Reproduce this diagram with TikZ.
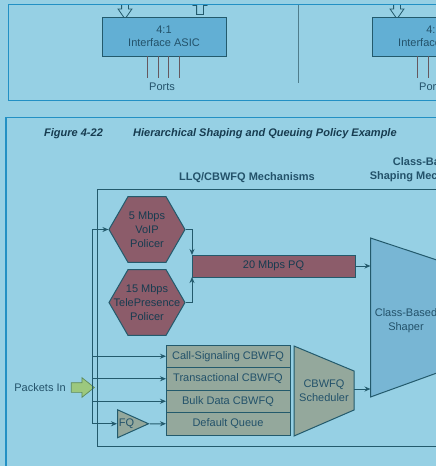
\documentclass[tikz,border=0pt]{standalone}
\usepackage{fontspec}
\setmainfont{Liberation Sans}
\usepackage{xcolor}
\usepackage{tikz}
\usetikzlibrary{shapes.geometric, shapes.arrows, arrows.meta, positioning}
\definecolor{bgblue}{HTML}{96D0E4}
\definecolor{panelblue}{HTML}{2290C4}
\definecolor{asicblue}{HTML}{62AFD4}
\definecolor{linedark}{HTML}{235A6C}
\definecolor{txtdark}{HTML}{23526A}
\definecolor{txtdeep}{HTML}{173C50}
\definecolor{policerred}{HTML}{8C5C6A}
\definecolor{queuegrey}{HTML}{94A89C}
\definecolor{shaperblue}{HTML}{78B6D4}
\definecolor{pktgreen}{HTML}{9CC87E}
\definecolor{pktedge}{HTML}{5E8A5A}
\definecolor{portline}{HTML}{66585F}
\definecolor{dividerline}{HTML}{4F7D8C}
\tikzstyle{block} = [rectangle, draw=linedark, line width=1pt, align=center, inner sep=0pt, outer sep=0pt, font=\fontsize{11}{13}\selectfont, text=txtdark]
\tikzstyle{asic} = [block, fill=asicblue, minimum width=124pt, minimum height=39pt]
\tikzstyle{queue} = [block, fill=queuegrey, minimum width=124pt, minimum height=22.5pt]
\tikzstyle{pqbox} = [block, fill=policerred, text=txtdeep, minimum width=163pt, minimum height=22pt]
\tikzstyle{hexa} = [regular polygon, regular polygon sides=6, minimum size=76pt, inner sep=0pt, draw=linedark, line width=1pt, fill=policerred]
\tikzstyle{hextext} = [align=center, inner sep=0pt, font=\fontsize{11}{14}\selectfont, text=txtdeep]
\tikzstyle{lbl} = [align=center, inner sep=0pt, font=\fontsize{11}{14}\selectfont, text=txtdark]
\tikzstyle{heading} = [lbl, font=\fontsize{11}{14}\selectfont\bfseries]
\tikzstyle{figtitle} = [lbl, anchor=west, text=txtdeep, font=\fontsize{11}{14}\selectfont\bfseries\itshape]
\tikzstyle{arrow} = [draw=linedark, line width=1pt, -{Stealth[length=6pt,width=5pt]}]
\tikzstyle{line} = [draw=linedark, line width=1pt]
\tikzstyle{frame} = [draw=panelblue, line width=1.6pt]
\tikzstyle{port} = [draw=portline, line width=1.8pt]
\tikzstyle{hollow} = [single arrow, draw=linedark, fill=bgblue, line width=0.8pt, minimum height=19pt, inner xsep=0pt, inner ysep=3pt, single arrow head extend=3.5pt, single arrow tip angle=70]
\tikzstyle{pktarrow} = [single arrow, draw=pktedge, fill=pktgreen, line width=0.7pt, minimum height=23pt, inner xsep=0pt, inner ysep=4.5pt, single arrow head extend=5pt, single arrow tip angle=77]
\tikzstyle{fqtri} = [isosceles triangle, isosceles triangle stretches, minimum width=28pt, minimum height=31pt, inner sep=0pt, draw=linedark, line width=1pt, fill=queuegrey, font=\fontsize{11}{13}\selectfont, text=txtdark]

\begin{document}
\begin{tikzpicture}[x=1pt, y=-1pt]
  \useasboundingbox (0,0) rectangle (436,466);
  \clip (0,0) rectangle (436,466);
  \fill[bgblue] (0,0) rectangle (436,466);

  % upper panel: interface ASICs
  \begin{scope}
    \clip (0,5) rectangle (436,100);
    \node[hollow, rotate=-90] (downA) at (125,7) {};
    \node[hollow, rotate=90] (upA) at (200,7.5) {};
    \node[hollow, rotate=-90] (downB) at (397,7) {};
  \end{scope}
  \node[asic] (asicA) at (164,36.5) {4:1\\Interface ASIC};
  \node[asic] (asicB) at (434,36.5) {4:1\\Interface ASIC};
  \foreach \dx in {-16.5,-5.5,4.5,15.5} {
    \draw[port] ([xshift=\dx pt]asicA.south) -- ++(0,22);
    \draw[port] ([xshift=\dx pt]asicB.south) -- ++(0,22);
  }
  \node[lbl] (portsA) at (162,87) {Ports};
  \node[lbl] (portsB) at (432,87) {Ports};
  \draw[dividerline, line width=1.4pt] (298.5,5) -- (298.5,83);
  \draw[frame] (440,4.5) -- (8.5,4.5) -- (8.5,100.5) -- (440,100.5);

  % lower panel: figure 4-22
  \draw[frame] (440,117.5) -- (6,117.5) -- (6,470);
  \node[figtitle] (fignum) at (44,134) {Figure 4-22};
  \node[figtitle] (figname) at (133,134) {Hierarchical Shaping and Queuing Policy Example};
  \node[heading] (llqhead) at (247,178) {LLQ/CBWFQ Mechanisms};
  \node[heading] (cbshead) at (426,170) {Class-Based\\Shaping Mechanisms};
  \draw[line] (440,189) -- (97,189) -- (97,446) -- (440,446);

  \draw[line, fill=shaperblue] (370.5,238) -- (470,271) -- (470,361) -- (370.5,397) -- cycle;
  \node[lbl] (shaper) at (406,321) {Class-Based\\Shaper};
  \coordinate (shaperpq) at (370.5,266);
  \coordinate (shapercb) at (370.5,389);

  \node[hexa, label={[hextext]center:5 Mbps\\VoIP\\Policer}] (voip) at (147,229.5) {};
  \node[hexa, label={[hextext]center:15 Mbps\\TelePresence\\Policer}] (telep) at (147,302.5) {};
  \node[pqbox] (pq) at (273.5,266) {20 Mbps PQ};

  \node[queue] (qcall) at (228,356.25) {Call-Signaling CBWFQ};
  \node[queue] (qtrans) at (228,378.75) {Transactional CBWFQ};
  \node[queue] (qbulk) at (228,401.25) {Bulk Data CBWFQ};
  \node[queue] (qdef) at (228,423.75) {Default Queue};

  \draw[line, fill=queuegrey] (294,346) -- (354,371) -- (354,410) -- (294,436) -- cycle;
  \node[lbl] (sched) at (324,391) {CBWFQ\\Scheduler};
  \coordinate (schedout) at (354,389);

  \node[fqtri, anchor=west] (fq) at (117,423.75) {FQ};

  \node[pktarrow] (pin) at (79.75,387.5) {};
  \node[lbl, left=5pt of pin] (pkttext) {Packets In};

  % connectors
  \coordinate (trunktop) at (92,229.5);
  \draw[line] (trunktop) -- (trunktop |- fq.west);
  \draw[arrow] (trunktop) -- (voip.west);
  \foreach \q in {qcall,qtrans,qbulk}
    \draw[arrow] (trunktop |- \q.west) -- (\q.west);
  \draw[arrow] (trunktop |- fq.west) -- (fq.west);
  \draw[arrow] (fq.apex) -- (qdef.west);
  \draw[arrow] (voip.east) -| (pq.north west);
  \draw[arrow] (telep.east) -| (pq.south west);
  \draw[arrow] (pq.east) -- (shaperpq);
  \draw[arrow] (schedout) -- (shapercb);
\end{tikzpicture}
\end{document}
